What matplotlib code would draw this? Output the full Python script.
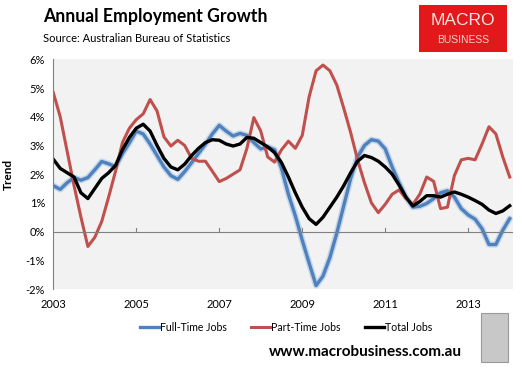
import numpy as np
import matplotlib
matplotlib.use("Agg")
import matplotlib.pyplot as plt
from matplotlib.patches import Rectangle

plt.rcParams['font.family'] = ['Lato', 'DejaVu Sans']

# bi-monthly readings, Jan 2003 .. Jan 2014 (annual % change, trend)
start_year = 2003
steps_per_year = 6

full_time = [1.60, 1.47, 1.70, 1.88, 1.79, 1.88, 2.15, 2.44, 2.36, 2.26,
             2.71, 3.09, 3.50, 3.40, 3.05, 2.65, 2.25, 1.95, 1.82, 2.09,
             2.40, 2.72, 3.04, 3.40, 3.70, 3.50, 3.33, 3.42, 3.35, 3.10,
             2.88, 2.95, 2.85, 2.20, 1.30, 0.55, -0.30, -1.10, -1.88, -1.55,
             -0.90, -0.05, 0.90, 1.85, 2.60, 3.00, 3.20, 3.15, 2.88, 2.25,
             1.70, 1.20, 0.85, 0.88, 0.98, 1.15, 1.35, 1.42, 1.20, 0.80,
             0.58, 0.43, 0.10, -0.45, -0.45, 0.05, 0.45]

part_time = [4.84, 4.00, 2.80, 1.60, 0.50, -0.52, -0.20, 0.35, 1.20, 2.10,
             3.10, 3.60, 3.90, 4.10, 4.60, 4.20, 3.30, 2.98, 3.18, 3.00,
             2.55, 2.45, 2.45, 2.10, 1.74, 1.85, 2.00, 2.15, 2.90, 3.97,
             3.50, 2.60, 2.42, 2.85, 3.15, 2.90, 3.35, 4.70, 5.60, 5.80,
             5.60, 5.10, 4.30, 3.45, 2.50, 1.70, 1.00, 0.66, 0.95, 1.30,
             1.45, 1.15, 0.95, 1.30, 1.90, 1.75, 0.80, 0.85, 1.95, 2.50,
             2.55, 2.50, 3.05, 3.65, 3.40, 2.60, 1.90]

total = [2.52, 2.20, 2.05, 1.90, 1.35, 1.15, 1.50, 1.85, 2.05, 2.30,
         2.85, 3.28, 3.60, 3.74, 3.50, 3.00, 2.55, 2.25, 2.15, 2.35,
         2.65, 2.90, 3.10, 3.20, 3.18, 3.05, 2.98, 3.05, 3.28, 3.25,
         3.10, 2.95, 2.75, 2.40, 1.90, 1.35, 0.85, 0.45, 0.25, 0.50,
         0.85, 1.20, 1.60, 2.05, 2.45, 2.65, 2.58, 2.45, 2.25, 2.00,
         1.62, 1.20, 0.89, 1.05, 1.25, 1.25, 1.20, 1.30, 1.38, 1.30,
         1.20, 1.08, 0.95, 0.75, 0.63, 0.72, 0.90]

year_ticks = [2003, 2005, 2007, 2009, 2011, 2013]
pct_ticks = [-2, -1, 0, 1, 2, 3, 4, 5, 6]

t = start_year + np.arange(len(total)) / steps_per_year

fig = plt.figure(figsize=(5.22, 3.70), dpi=100)
ax = fig.add_axes([0.1021, 0.2189, 0.8807, 0.6208])
ax.set_facecolor('#F2F2F2')

blue = '#4F81BD'
red = '#C0504D'

# soft glow under the full-time line
ax.plot(t, full_time, color='#A9C4E6', lw=4.5, alpha=0.6, solid_capstyle='round')
ax.plot(t, full_time, color=blue, lw=2.4, label='Full-Time Jobs')
ax.plot(t, part_time, color=red, lw=2.2, label='Part-Time Jobs')
ax.plot(t, total, color='black', lw=2.4, label='Total Jobs')

ax.set_xlim(2003, 2014.08)
ax.set_ylim(-2, 6)

# zero axis with small category ticks
ax.axhline(0, color='#808080', lw=0.8)
for yr in year_ticks[1:]:
    ax.plot([yr, yr], [0, 0.12], color='#808080', lw=0.8)

for s in ['top', 'right', 'bottom']:
    ax.spines[s].set_visible(False)
ax.spines['left'].set_color('#808080')
ax.spines['left'].set_linewidth(0.8)

ax.set_yticks(pct_ticks)
ax.set_yticklabels(['%d%%' % v for v in pct_ticks], fontsize=8)
ax.set_xticks(year_ticks)
ax.set_xticklabels([str(y) for y in year_ticks], fontsize=8)
ax.tick_params(length=0, pad=6)
ax.tick_params(axis='x', pad=7)
ax.set_ylabel('Trend', fontsize=8.5, fontweight='bold', labelpad=8)

fig.text(0.082, 0.955, 'Annual Employment Growth', fontsize=12.7,
         fontweight='bold', ha='left', va='center')
fig.text(0.082, 0.897, 'Source: Australian Bureau of Statistics', fontsize=8,
         ha='left', va='center')

# MACRO BUSINESS badge
fig.patches.append(Rectangle((0.803, 0.86), 0.168, 0.127, transform=fig.transFigure,
                             facecolor='#E2181B', edgecolor='none'))
fig.text(0.887, 0.945, 'MACRO', color='#F4E4E4', fontsize=12.5, ha='center',
         va='center', family=['Liberation Sans', 'DejaVu Sans'])
fig.text(0.887, 0.892, 'BUSINESS', color='#F6D0D0', fontsize=7.5, ha='center',
         va='center', family=['Liberation Sans', 'DejaVu Sans'])

fig.legend(loc='center', bbox_to_anchor=(0.548, 0.116), ncol=3, frameon=False,
           fontsize=7.6, handlelength=1.8, handletextpad=0.1, columnspacing=2.3)

fig.text(0.70, 0.049, 'www.macrobusiness.com.au', fontsize=11, fontweight='bold',
         ha='center', va='center')
# little wolf picture placeholder
fig.patches.append(Rectangle((0.921, 0.022), 0.052, 0.132, transform=fig.transFigure,
                             facecolor='#C8C8C8', edgecolor='#9A9A9A', lw=0.8))

fig.savefig('out.png', dpi=100)
